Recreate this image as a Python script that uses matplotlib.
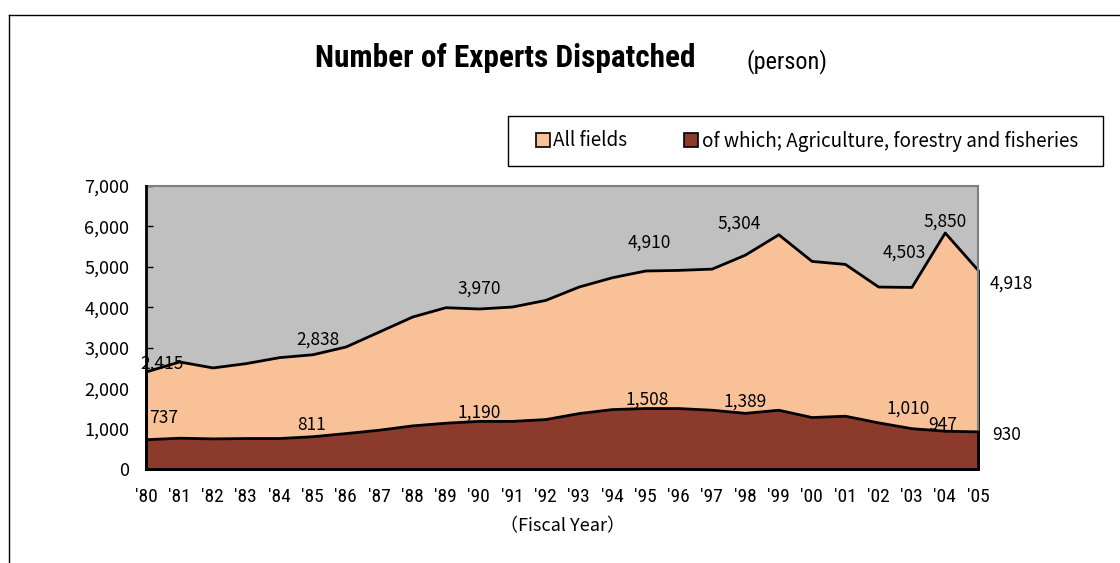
import matplotlib.pyplot as plt
from matplotlib.patches import Patch, Rectangle
from matplotlib.lines import Line2D
from matplotlib.ticker import FuncFormatter

# Fiscal years and number of experts dispatched
annees = list(range(1980, 2006))
tous_domaines = [2415, 2660, 2512, 2619, 2767, 2838, 3031, 3401, 3772, 4002,
                 3970, 4019, 4183, 4513, 4743, 4910, 4925, 4957, 5304, 5806,
                 5147, 5073, 4513, 4503, 5850, 4918]
agriculture = [737, 774, 757, 766, 766, 811, 889, 972, 1079, 1145,
               1190, 1190, 1235, 1383, 1482, 1508, 1507, 1466, 1389, 1466,
               1285, 1318, 1153, 1010, 947, 930]
etiquettes_x = ["'" + str(a)[-2:] for a in annees]

# Years whose values are written on the chart
indices_etiquettes = [0, 5, 10, 15, 18, 23, 24, 25]

# Label offsets in pixels (dx, dy) from the data point
decalage_total = [(16, 8), (5, 15), (0, 20), (4, 28), (-6, 31), (-7, 34), (0, 11), (33, -13)]
decalage_agri = [(18, 21), (-1, 11), (0, 8), (2, 8), (0, 11), (-3, 20), (-2, 6), (29, -4)]

GRIS = '#c0c0c0'
ORANGE = '#f9c197'
BRUN = '#8b3a2b'
NARROW = ['Roboto Condensed', 'DejaVu Sans']
GOTHIC = ['Noto Sans CJK JP', 'DejaVu Sans']

W, H = 1120, 563


def etiqueter(ax, x, valeurs, decalages):
    for i, (dx, dy) in zip(indices_etiquettes, decalages):
        ax.annotate(f'{valeurs[i]:,}', (x[i], valeurs[i]), xytext=(dx, dy),
                    textcoords='offset pixels', ha='center', va='center',
                    fontsize=12.5, family=GOTHIC, annotation_clip=False)


fig = plt.figure(figsize=(W / 100, H / 100), dpi=100)

# Outer frame (only top and left edges are visible)
fig.add_artist(Line2D([9 / W, 1], [1 - 15 / H, 1 - 15 / H], color='black', lw=1))
fig.add_artist(Line2D([9 / W, 9 / W], [0, 1 - 15 / H], color='black', lw=1))

ax = fig.add_axes([146 / W, 1 - 469 / H, (978 - 146) / W, (469 - 186) / H])
ax.set_facecolor(GRIS)

x = list(range(len(annees)))
ax.fill_between(x, 0, tous_domaines, facecolor=ORANGE, edgecolor='black', lw=2, clip_on=False, zorder=2)
ax.fill_between(x, 0, agriculture, facecolor=BRUN, edgecolor='black', lw=2, clip_on=False, zorder=3)

ax.set_xlim(0, len(annees) - 1)
ax.set_ylim(0, 7000)
ax.set_xticks(x)
ax.set_xticklabels(etiquettes_x, family=NARROW, fontsize=14)
ax.set_yticks(range(0, 7001, 1000))
ax.yaxis.set_major_formatter(FuncFormatter(lambda v, p: f'{int(v):,}'))
for lab in ax.get_yticklabels():
    lab.set_family(GOTHIC)
    lab.set_fontsize(13)
ax.tick_params(axis='both', direction='in', length=5, width=1, color='black')
ax.tick_params(axis='x', pad=14)
ax.tick_params(axis='y', pad=12)

for cote in ['top', 'right']:
    ax.spines[cote].set_color('#808080')
    ax.spines[cote].set_linewidth(1.5)
for cote in ['left', 'bottom']:
    ax.spines[cote].set_color('black')
    ax.spines[cote].set_linewidth(2)
    ax.spines[cote].set_zorder(5)

etiqueter(ax, x, tous_domaines, decalage_total)
etiqueter(ax, x, agriculture, decalage_agri)

ax.set_xlabel('（Fiscal Year）', family=GOTHIC, fontsize=13, labelpad=8)

# Titles
fig.text(505 / W, 1 - 58 / H, 'Number of Experts Dispatched', ha='center', va='center',
         fontsize=22.5, fontweight='bold', family=NARROW)
fig.text(746 / W, 1 - 62 / H, '(person)', ha='left', va='center', fontsize=17.5, family=NARROW)

# Legend, with its box drawn separately
fig.add_artist(Rectangle((508 / W, 1 - 166 / H), (1103 - 508) / W, 50 / H,
                         transform=fig.transFigure, facecolor='white', edgecolor='black', lw=1))
poignees = [Patch(facecolor=ORANGE, edgecolor='black', lw=1.2),
            Patch(facecolor=BRUN, edgecolor='black', lw=1.2)]
leg = fig.legend(poignees, ['All fields', 'of which; Agriculture, forestry and fisheries'],
                 loc='center', bbox_to_anchor=(807 / W, 1 - 141 / H),
                 ncol=2, frameon=False,
                 handlelength=0.75, handleheight=0.75, handletextpad=0.2, columnspacing=3.0,
                 borderpad=0.2, prop={'family': GOTHIC, 'size': 13.6})

fig.savefig('out.png', dpi=100)
